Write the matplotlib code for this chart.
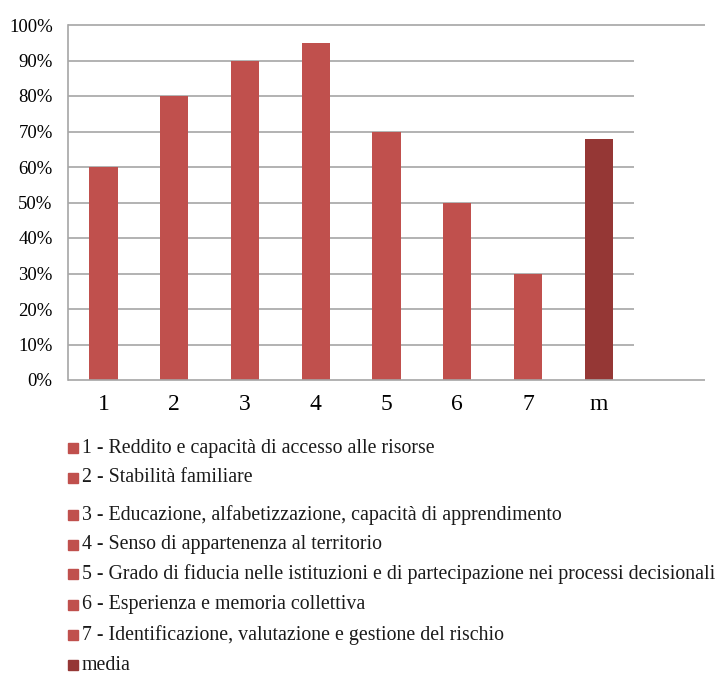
import matplotlib
matplotlib.use("Agg")
import matplotlib.pyplot as plt
from matplotlib.patches import Rectangle

categories = ["1", "2", "3", "4", "5", "6", "7", "m"]
values = [0.60, 0.80, 0.90, 0.95, 0.70, 0.50, 0.30, 0.68]
bar_colors = ["#C0504D"] * 7 + ["#953735"]
y_ticks = [0.0, 0.1, 0.2, 0.3, 0.4, 0.5, 0.6, 0.7, 0.8, 0.9, 1.0]
y_tick_labels = ["0%", "10%", "20%", "30%", "40%", "50%", "60%", "70%", "80%", "90%", "100%"]
legend_labels = [
    "1 - Reddito e capacità di accesso alle risorse",
    "2 - Stabilità familiare",
    "3 - Educazione, alfabetizzazione, capacità di apprendimento",
    "4 - Senso di appartenenza al territorio",
    "5 - Grado di fiducia nelle istituzioni e di partecipazione nei processi decisionali",
    "6 - Esperienza e memoria collettiva",
    "7 - Identificazione, valutazione e gestione del rischio",
    "media",
]
legend_y_px = [448, 478, 515, 545, 574, 605, 635, 665]

plt.rcParams["font.family"] = ["Liberation Serif", "DejaVu Serif"]

W, H = 720, 673
fig = plt.figure(figsize=(W / 100, H / 100), dpi=100)
ax = fig.add_axes([68 / W, 1 - 380 / H, (705 - 68) / W, (380 - 25) / H])

x = list(range(len(categories)))
ax.bar(x, values, width=0.4, color=bar_colors, zorder=3)

ax.set_xlim(-0.5, len(categories) + 0.5)
ax.set_ylim(0, 1.0)

grid_color = "#A6A6A6"
# inner gridlines span the category area only
for yv in y_ticks[1:-1]:
    ax.plot([-0.5, len(categories) - 0.5], [yv, yv], color=grid_color, lw=1.2, zorder=1,
            solid_capstyle="butt")
# top and bottom lines span the full plot width
for yv in (0.0, 1.0):
    ax.plot([-0.5, len(categories) + 0.5], [yv, yv], color=grid_color, lw=1.2, zorder=4,
            clip_on=False, solid_capstyle="butt")

for s in ("top", "right", "bottom"):
    ax.spines[s].set_visible(False)
ax.spines["left"].set_color(grid_color)
ax.spines["left"].set_linewidth(1.2)

ax.set_yticks(y_ticks)
ax.set_yticklabels(y_tick_labels, fontsize=13.5)
ax.set_xticks(x)
ax.set_xticklabels(categories, fontsize=17)
ax.tick_params(axis="both", length=0)
ax.tick_params(axis="y", pad=11)
ax.tick_params(axis="x", pad=10)

# legend drawn as square markers with labels
for label, ypx, col in zip(legend_labels, legend_y_px, bar_colors):
    yf = 1 - ypx / H
    fig.patches.append(Rectangle((68 / W, yf - 5 / H), 10 / W, 10 / H,
                                 transform=fig.transFigure, color=col))
    fig.text(82 / W, yf, label, fontsize=14.3, va="center", ha="left", color="#1a1a1a")

fig.savefig("out.png", dpi=100)
